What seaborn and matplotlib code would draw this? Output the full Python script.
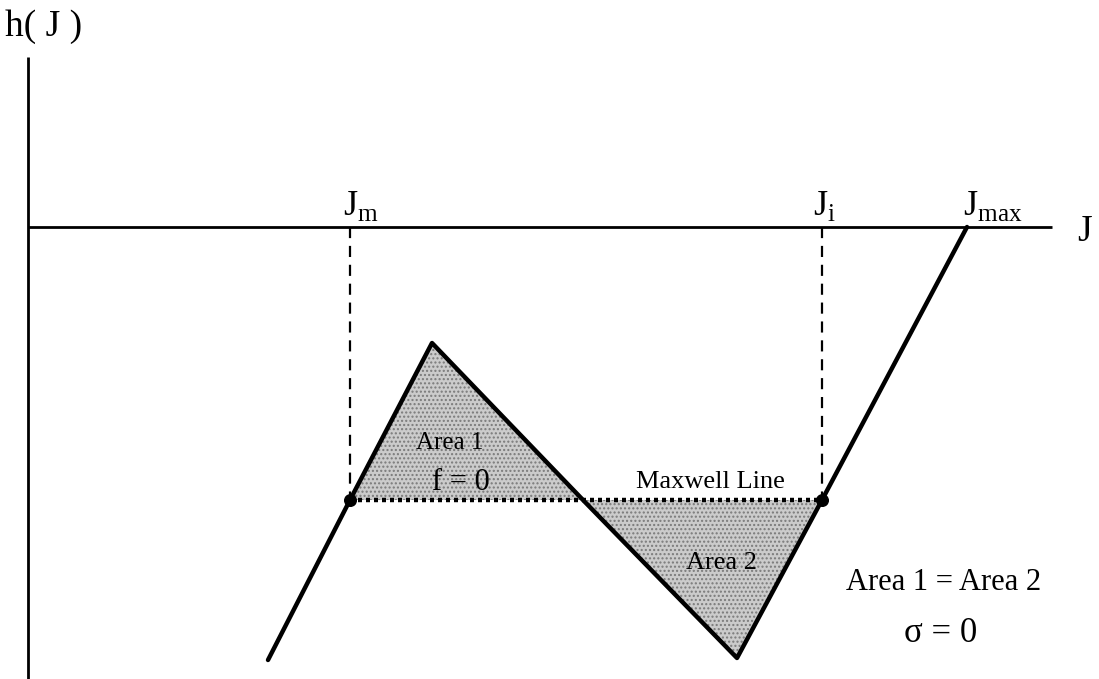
import matplotlib
matplotlib.use("Agg")
import matplotlib.pyplot as plt
import seaborn as sns
import pandas as pd

# Piecewise-linear h(J) curve (J along the horizontal axis, h downward negative)
curve_J = [2.40, 3.22, 4.04, 5.55, 7.09, 7.94, 9.39]
curve_h = [-4.33, -2.73, -1.16, -2.73, -4.31, -2.73, 0.0]

# Maxwell construction
J_m, J_i, J_max = 3.22, 7.94, 9.39
h_maxwell = -2.73
area1_J = [3.22, 4.04, 5.55]
area1_h = [-2.73, -1.16, -2.73]
area2_J = [5.55, 7.09, 7.94]
area2_h = [-2.73, -4.31, -2.73]

sns.set_theme(style="white")
plt.rcParams["font.family"] = ["Liberation Serif", "DejaVu Serif"]
plt.rcParams["mathtext.fontset"] = "custom"
plt.rcParams["mathtext.rm"] = "Liberation Serif"
plt.rcParams["text.color"] = "black"

fig = plt.figure(figsize=(10.99, 6.79), dpi=100)
ax = fig.add_axes([0, 0, 1, 1])
ax.set_xlim(-0.28, 10.71)
ax.set_ylim(-4.52, 2.27)
ax.axis("off")

# coordinate axes
ax.plot([0, 0], [-4.52, 1.70], color="black", lw=2.0, solid_capstyle="butt")
ax.plot([0, 10.24], [0, 0], color="black", lw=2.0, solid_capstyle="butt")

# shaded equal areas
for xs, ys in [(area1_J, area1_h), (area2_J, area2_h)]:
    ax.fill(xs, ys, facecolor="#cbcbcb", edgecolor="#7a7a7a", hatch="....",
            linewidth=0)

# dashed projections to the J axis
for j in (J_m, J_i):
    ax.plot([j, j], [0, h_maxwell], color="black", lw=1.6,
            linestyle=(0, (5, 3.5)))

# Maxwell line
ax.plot([J_m, J_i], [h_maxwell, h_maxwell], color="black", lw=3.2,
        linestyle=(0, (0.9, 0.9)), solid_capstyle="butt")

# the curve
df = pd.DataFrame({"J": curve_J, "h": curve_h})
sns.lineplot(data=df, x="J", y="h", ax=ax, color="black", lw=3.2,
             sort=False, estimator=None)

# coexistence points
ax.scatter([J_m, J_i], [h_maxwell, h_maxwell], s=70, color="black", zorder=5)

# labels
ax.text(-0.23, 2.00, "h( J )", fontsize=27, ha="left", va="center")
ax.text(10.49, -0.05, "J", fontsize=27, ha="left", va="center")
ax.text(J_m - 0.07, 0.12, r"J$_{\mathrm{m}}$", fontsize=26, ha="left", va="baseline")
ax.text(J_i - 0.09, 0.12, r"J$_{\mathrm{i}}$", fontsize=26, ha="left", va="baseline")
ax.text(J_max - 0.04, 0.12, r"J$_{\mathrm{max}}$", fontsize=26,
        ha="left", va="baseline")
ax.text(4.22, -2.16, "Area 1", fontsize=18, ha="center", va="center")
ax.text(4.33, -2.56, "f = 0", fontsize=22, ha="center", va="center")
ax.text(6.82, -2.55, "Maxwell Line", fontsize=19, ha="center", va="center")
ax.text(6.94, -3.36, "Area 2", fontsize=19, ha="center", va="center")
ax.text(9.16, -3.56, "Area 1 = Area 2", fontsize=22, ha="center", va="center")
ax.text(9.13, -4.06, "σ = 0", fontsize=25, ha="center", va="center")

fig.savefig("out.png", dpi=100)
